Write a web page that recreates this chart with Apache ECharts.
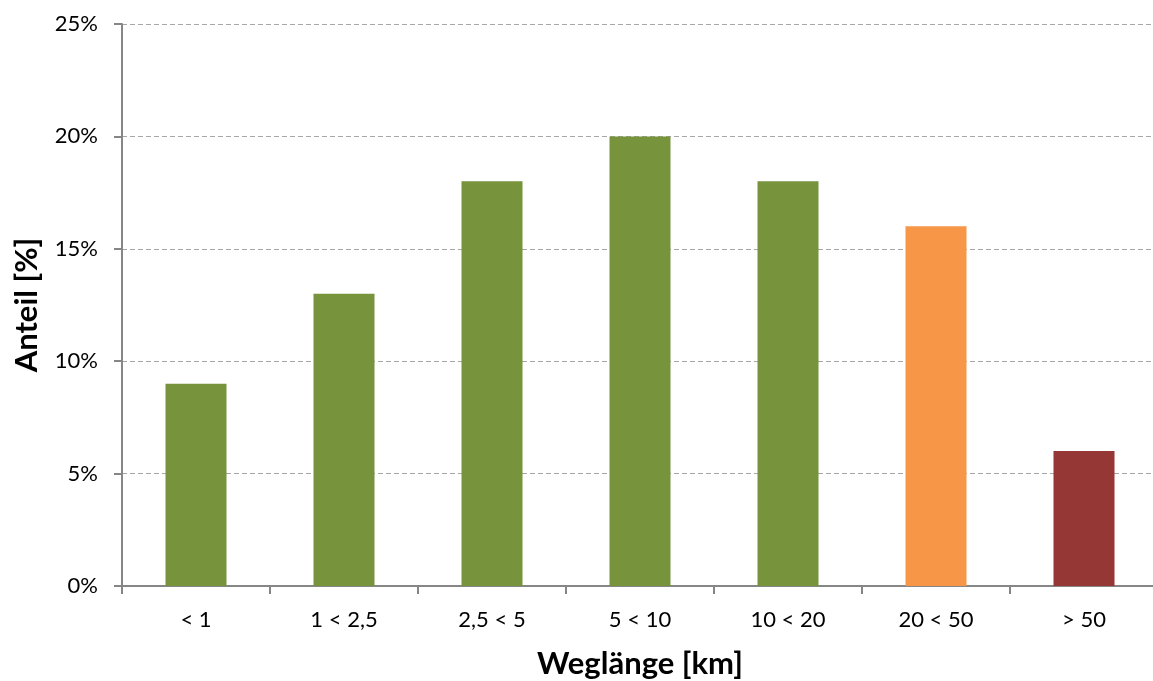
<!DOCTYPE html>
<html><head><meta charset="utf-8">
<script src="https://cdn.jsdelivr.net/npm/echarts@6/dist/echarts.min.js"></script>
<style>html,body{margin:0;padding:0;background:#fff;overflow:hidden}#c{width:1153px;height:681px}</style>
</head><body><div id="c"></div>
<script>
const categories = ["< 1", "1 < 2,5", "2,5 < 5", "5 < 10", "10 < 20", "20 < 50", "> 50"];
const values = [9, 13, 18, 20, 18, 16, 6];
const barColors = ["#77933C", "#77933C", "#77933C", "#77933C", "#77933C", "#F79646", "#953735"];
const yTicks = [0, 5, 10, 15, 20, 25];

const chart = echarts.init(document.getElementById('c'));
const font = "Lato, 'Open Sans', sans-serif";
chart.setOption({
  animation: false,
  grid: { left: 122, right: -5, top: 24, bottom: 95, containLabel: false, outerBoundsMode: 'none' },
  xAxis: {
    type: 'category', data: categories,
    name: 'Weglänge [km]', nameLocation: 'middle', nameGap: 62,
    nameTextStyle: { fontFamily: font, fontSize: 31, fontWeight: 'bold', color: '#000' },
    axisLine: { lineStyle: { color: '#868686', width: 2 } },
    axisTick: { show: true, length: 8, lineStyle: { color: '#868686', width: 2 } },
    axisLabel: { fontFamily: font, fontSize: 22, color: '#000', margin: 23 }
  },
  yAxis: {
    type: 'value', min: yTicks[0], max: yTicks[yTicks.length - 1], interval: 5,
    name: 'Anteil [%]', nameLocation: 'middle', nameGap: 80, nameRotate: 90,
    nameTextStyle: { fontFamily: font, fontSize: 31, fontWeight: 'bold', color: '#000' },
    axisLine: { show: true, lineStyle: { color: '#868686', width: 2 } },
    axisTick: { show: true, length: 8, lineStyle: { color: '#868686', width: 2 } },
    axisLabel: { fontFamily: font, fontSize: 22, color: '#000', margin: 24, formatter: v => v + '%' },
    splitLine: { show: true, lineStyle: { color: '#A6A6A6', type: [5, 3], width: 1 } }
  },
  series: [{
    type: 'bar', barWidth: 61,
    data: values.map((v, i) => ({ value: v, itemStyle: { color: barColors[i] } }))
  }]
});
</script></body></html>
